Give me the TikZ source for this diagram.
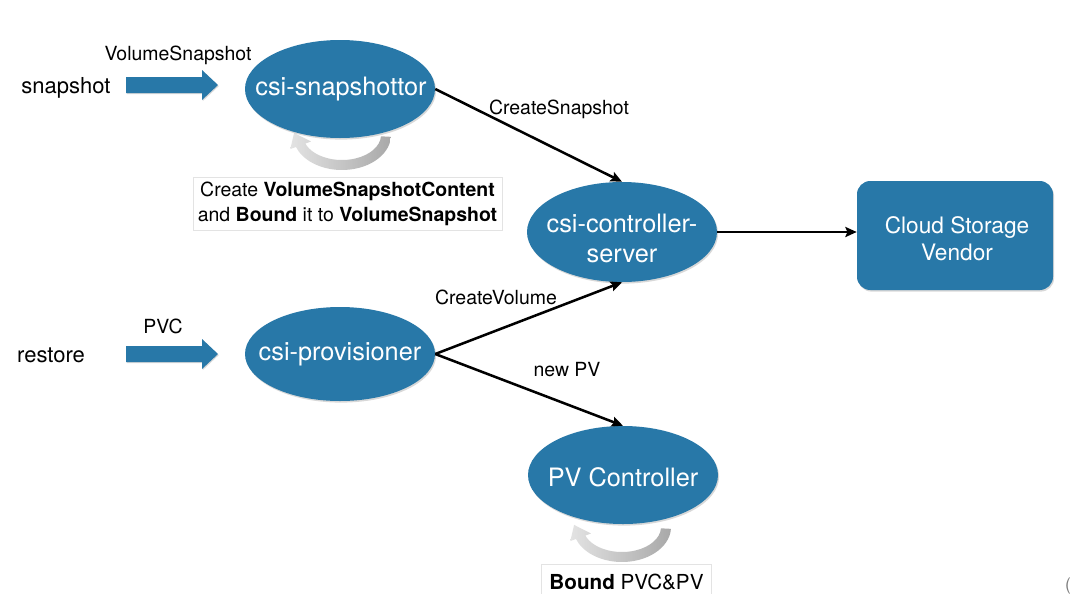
\documentclass[tikz,border=0pt]{standalone}
\usepackage{fontspec}
\setmainfont{TeX Gyre Heros}
\usetikzlibrary{shapes.geometric,arrows.meta,shadows,calc}
\definecolor{csiblue}{HTML}{2878A8}
\tikzset{
  blob/.style={ellipse, fill=csiblue, draw=none, inner sep=0pt,
    minimum width=142.5pt, minimum height=73.5pt,
    drop shadow={shadow xshift=0.8pt, shadow yshift=-1.2pt, opacity=0.3}},
  blobtxt/.style={text=white, font=\fontsize{19}{22.5}\selectfont, align=center},
  conn/.style={-{Stealth[length=8.5pt,width=7.5pt,inset=1.5pt]}, line width=1.9pt, black},
  lbl/.style={font=\fontsize{14.6}{17}\selectfont, text=black, inner sep=0pt},
  biglbl/.style={font=\fontsize{16.5}{19}\selectfont, text=black, inner sep=0pt},
  notebox/.style={draw=gray!22, fill=white, line width=0.6pt, align=center,
    font=\fontsize{14.6}{18.75}\selectfont, inner sep=2pt},
  blockarrow/.style={fill=csiblue,
    drop shadow={shadow xshift=0.6pt, shadow yshift=-0.8pt, opacity=0.3}},
  loopback/.pic={
    \shade[left color=gray!22, right color=gray!68]
      (3:49 and 35) arc[start angle=3, end angle=160, x radius=49, y radius=35]
      -- (160:55 and 41) -- (-47.9,-2.1) -- (160:33 and 19) -- (160:39 and 25)
      arc[start angle=160, end angle=3, x radius=39, y radius=25] -- cycle;
  }
}
\begin{document}
\begin{tikzpicture}[x=0.75pt, y=-0.75pt]
\useasboundingbox (0,0) rectangle (1070,593);
\clip (0,0) rectangle (1070,593);
\fill[white] (0,0) rectangle (1070,593);

% loop arrows (behind ellipses)
\pic at (342,135) {loopback};
\pic at (622,527) {loopback};

% ellipses
\node[blob] (snap) at (340,89) {};
\node[blobtxt] (snaptxt) at (341,89) {csi-snapshottor};
\node[blob, minimum height=75pt] (ctrl) at (622,232) {};
\node[blobtxt] (ctrltxt) at (622,238) {csi-controller-\\server};
\node[blob, minimum height=70.5pt] (prov) at (340,354) {};
\node[blobtxt] (provtxt) at (340,354) {csi-provisioner};
\node[blob] (pvc) at (623,475) {};
\node[blobtxt] (pvctxt) at (623,477) {PV Controller};

% cloud box
\node[rectangle, rounded corners=10pt, fill=csiblue, minimum width=147pt,
      minimum height=81.75pt, inner sep=0pt,
      drop shadow={shadow xshift=0.8pt, shadow yshift=-1.2pt, opacity=0.3}] (cloud) at (955,235.5) {};
\node[text=white, font=\fontsize{17}{20}\selectfont, align=center] (cloudtxt) at (957,238.5) {Cloud Storage\\Vendor};

% block arrows
\fill[blockarrow] (126,77) -- (202,77) -- (202,70) -- (218,85) -- (202,100) -- (202,93) -- (126,93) -- cycle;
\fill[blockarrow] (126,346) -- (202,346) -- (202,339) -- (218,354) -- (202,369) -- (202,362) -- (126,362) -- cycle;

% texts
\node[biglbl] (tsnap) at (66,88) {snapshot};
\node[biglbl] (trest) at (51,355) {restore};
\node[lbl] (tvs) at (178,55) {VolumeSnapshot};
\node[lbl] (tpvc) at (163,326) {PVC};
\node[lbl] (tcs) at (559,109) {CreateSnapshot};
\node[lbl] (tcv) at (496,297) {CreateVolume};
\node[lbl] (tnp) at (567,370) {new PV};

% connectors
\draw[conn] (snap.east) -- (ctrl.north);
\draw[conn] (prov.east) -- (ctrl.south);
\draw[conn] (prov.east) -- (pvc.north);
\draw[conn] (ctrl.east) -- (ctrl.east -| cloud.west);

% notes
\node[notebox, minimum width=231.75pt, minimum height=39.75pt] (note1) at (347.5,203.5)
  {Create \textbf{VolumeSnapshotContent}\\and \textbf{Bound} it to \textbf{VolumeSnapshot}};
\node[notebox, minimum width=128pt, minimum height=27pt, font=\fontsize{15.5}{18}\selectfont] (note2) at (626.5,582)
  {\textbf{Bound} PVC\&PV};

\node[text=gray, font=\fontsize{13}{15}\selectfont, inner sep=0pt] (paren) at (1068,586) {(};
\end{tikzpicture}
\end{document}
